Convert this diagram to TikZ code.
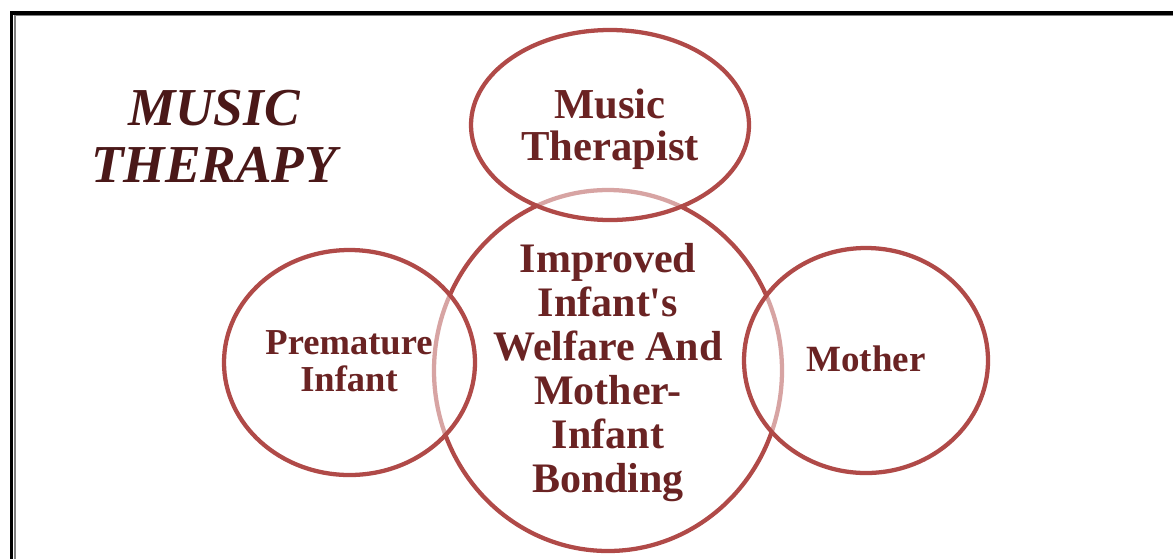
\documentclass[tikz,border=0pt]{standalone}
\usepackage{fontspec}
\setmainfont{Liberation Serif}
\definecolor{ringred}{HTML}{B04A48}
\definecolor{wordred}{HTML}{6A2323}
\definecolor{titlered}{HTML}{4A1818}
\begin{document}
\begin{tikzpicture}[x=0.75pt,y=-0.75pt,
    ring/.style={draw=ringred,line width=3.2pt},
    veil/.style={ring,fill=white,fill opacity=0.5},
    word/.style={text=wordred,align=center,inner sep=0pt,font=\bfseries}]
  \clip (0,0) rectangle (1173,558);
  % page frame
  \draw[line width=2.3pt] (11.5,13) rectangle (1200,600);
  \draw[gray,line width=1.1pt] (15,15.5) rectangle (1200,600);

  % the big middle ring goes first, the others veil it
  \draw[ring] (608,370.5) ellipse [x radius=174, y radius=180.5];
  \begin{scope}
    \draw[veil] (610,125) ellipse [x radius=139, y radius=95];
    \draw[veil] (349.5,362.5) ellipse [x radius=125.5, y radius=112.5];
    \draw[veil] (866,360.5) ellipse [x radius=122, y radius=112.5];
  \end{scope}

  \node[text=titlered,align=center,inner sep=0pt,
    font=\fontsize{40}{42.75}\selectfont\bfseries\itshape]
    (title) at (214,136) {MUSIC\\THERAPY};
  \node[word,font=\fontsize{32}{31.5}\selectfont\bfseries]
    (therapist) at (610,129) {Music\\Therapist};
  \node[word,font=\fontsize{31.5}{33}\selectfont\bfseries]
    (outcome) at (608,372.5)
    {Improved\\Infant\textquotesingle s\\Welfare And\\Mother-\\Infant\\Bonding};
  \node[word,font=\fontsize{27.4}{27.75}\selectfont\bfseries]
    (infant) at (349,361) {Premature\\Infant};
  \node[word,font=\fontsize{27.75}{28}\selectfont\bfseries]
    (mother) at (866,359) {Mother};
\end{tikzpicture}
\end{document}
